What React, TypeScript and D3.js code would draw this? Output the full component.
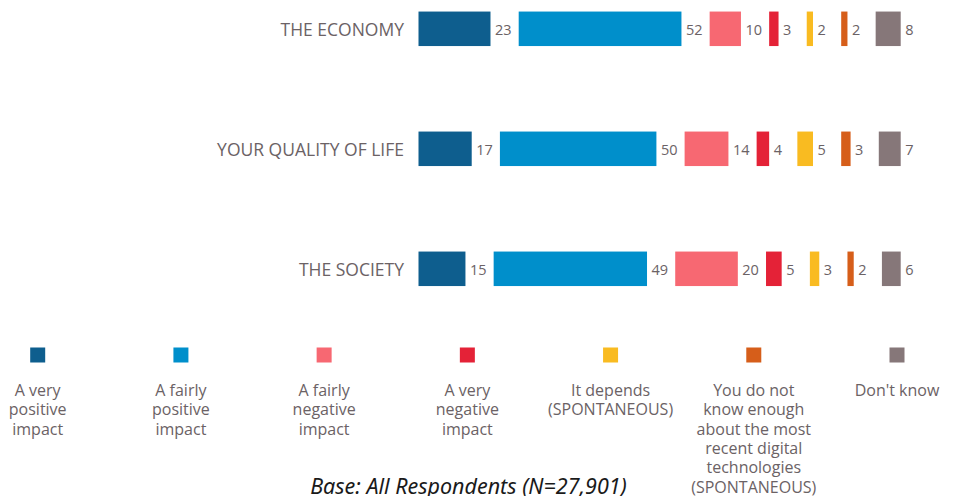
import React from "react";
import * as d3 from "d3";

const categories = ["THE ECONOMY", "YOUR QUALITY OF LIFE", "THE SOCIETY"];
const seriesNames = [
  "A very positive impact",
  "A fairly positive impact",
  "A fairly negative impact",
  "A very negative impact",
  "It depends (SPONTANEOUS)",
  "You do not know enough about the most recent digital technologies (SPONTANEOUS)",
  "Don't know",
];
const legendLines = [
  ["A very", "positive", "impact"],
  ["A fairly", "positive", "impact"],
  ["A fairly", "negative", "impact"],
  ["A very", "negative", "impact"],
  ["It depends", "(SPONTANEOUS)"],
  ["You do not", "know enough", "about the most", "recent digital", "technologies", "(SPONTANEOUS)"],
  ["Don't know"],
];
const economy = [23, 52, 10, 3, 2, 2, 8];
const qualityOfLife = [17, 50, 14, 4, 5, 3, 7];
const society = [15, 49, 20, 5, 3, 2, 6];
const values = [economy, qualityOfLife, society];
const colors = ["#0e5e8e", "#008fcb", "#f76872", "#e42237", "#f9bb21", "#d65e1a", "#867779"];
const footnote = "Base: All Respondents (N=27,901)";

const W = 972;
const H = 496;
const TEXT = "#6b6265";
const FONT = "'Open Sans', 'Noto Sans', sans-serif";

export default function App() {
  const x0 = 418.5;
  const gap = 28.2;
  const xs = d3.scaleLinear().domain([0, 100]).range([0, 313]);
  const barH = 34.5;
  const legendX = d3.scaleLinear().domain([0, 6]).range([37.7, 897]);

  return (
    <svg width={W} height={H} style={{ position: "absolute", left: 0, top: 0, display: "block" }} fontFamily={FONT}>
      <rect width={W} height={H} fill="#fff" />
      {values.map((row, r) => {
        const cy = 28.8 + r * 120;
        let cum = 0;
        return (
          <g key={r}>
            <text x={404} y={cy + 7} textAnchor="end" fontSize={17.5} fill={TEXT}>
              {categories[r]}
            </text>
            {row.map((v, i) => {
              const x = x0 + xs(cum) + i * gap;
              cum += v;
              const w = xs(v);
              return (
                <g key={i}>
                  <rect x={x} y={cy - barH / 2} width={w} height={barH} fill={colors[i]} />
                  <text x={x + w + 4.5} y={cy + 6} fontSize={14.5} fill={TEXT}>
                    {v}
                  </text>
                </g>
              );
            })}
          </g>
        );
      })}
      {seriesNames.map((name, i) => {
        const cx = legendX(i);
        return (
          <g key={name}>
            <rect x={cx - 7.5} y={347.5} width={15} height={15} fill={colors[i]} />
            <text textAnchor="middle" fontSize={16} fill={TEXT}>
              {legendLines[i].map((ln, k) => (
                <tspan key={k} x={cx} y={396 + k * 19.3}>
                  {ln}
                </tspan>
              ))}
            </text>
          </g>
        );
      })}
      <text x={468.5} y={494} textAnchor="middle" fontSize={21.5} fontStyle="italic" fill="#1a1a1a" fontFamily="'Noto Sans', sans-serif">
        {footnote}
      </text>
    </svg>
  );
}
